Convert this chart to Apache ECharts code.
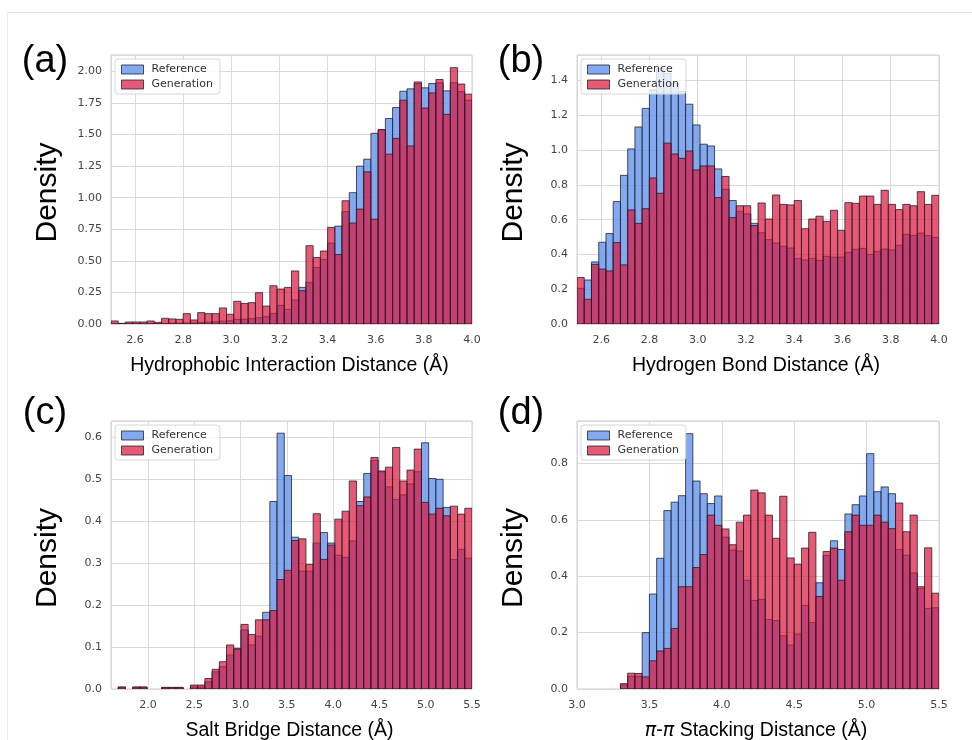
<!DOCTYPE html>
<html><head><meta charset="utf-8">
<script src="https://cdn.jsdelivr.net/npm/echarts@6/dist/echarts.min.js"></script>
<style>html,body{margin:0;padding:0;background:#fff}#c{width:972px;height:740px}</style>
</head><body><div id="c"></div>
<script>
// ---------------- data ----------------
const seriesNames = ['Reference', 'Generation'];
const panelLabels = ['(a)', '(b)', '(c)', '(d)'];
const xTitles = ['Hydrophobic Interaction Distance (Å)', 'Hydrogen Bond Distance (Å)', 'Salt Bridge Distance (Å)', '{i|π}-{i|π} Stacking Distance (Å)'];
const yTitle = 'Density';

// histogram bin layout (start of first bin, bin width), 50 bins each
const aBinStart = 2.5, aBinWidth = 0.03;
const bBinStart = 2.5, bBinWidth = 0.03;
const cBinStart = 1.6, cBinWidth = 0.078;
const dBinStart = 3.0, dBinWidth = 0.05;

// axis ranges (x tick step null = automatic nice step)
const aXRange = [2.5, 4.0], aXStep = null, aYRange = [0, 2.13], aYStep = 0.25;
const bXRange = [2.5, 4.0], bXStep = null, bYRange = [0, 1.547], bYStep = 0.2;
const cXRange = [1.6, 5.5], cXStep = null, cYRange = [0, 0.639], cYStep = 0.1;
const dXRange = [3.0, 5.5], dXStep = 0.5, dYRange = [0, 0.951], dYStep = 0.2;

const aRef = [0.003,0.002,0.003,0.003,0.003,0.004,0.004,0.005,0.006,0.006,
  0.008,0.010,0.012,0.015,0.018,0.022,0.026,0.037,0.038,0.042,
  0.050,0.058,0.084,0.148,0.116,0.19,0.29,0.33,0.448,0.51,
  0.64,0.775,0.89,1.04,1.25,1.305,1.51,1.535,1.627,1.714,
  1.843,1.862,1.904,1.87,1.904,1.91,1.846,1.91,1.84,1.772];
const aGen = [0.024,0.005,0.016,0.016,0.016,0.024,0.013,0.045,0.04,0.037,
  0.082,0.032,0.09,0.082,0.082,0.127,0.077,0.18,0.163,0.169,
  0.248,0.142,0.303,0.277,0.29,0.42,0.264,0.62,0.527,0.578,
  0.765,0.55,0.976,0.80,0.91,1.205,0.83,1.54,1.345,1.47,
  1.772,1.41,1.917,1.71,1.83,1.936,1.66,2.03,1.9,1.82];

const bRef = [0.205,0.253,0.357,0.47,0.52,0.704,0.855,1.007,1.133,1.24,
  1.346,1.47,1.44,1.385,1.337,1.264,1.145,1.034,1.024,0.892,
  0.775,0.71,0.648,0.633,0.579,0.525,0.485,0.466,0.447,0.437,
  0.376,0.368,0.378,0.366,0.389,0.384,0.385,0.412,0.43,0.435,
  0.40,0.418,0.431,0.426,0.453,0.516,0.51,0.523,0.508,0.498];
const bGen = [0.267,0.142,0.343,0.316,0.305,0.468,0.34,0.656,0.579,0.663,
  0.84,0.752,1.04,0.978,0.953,0.995,0.886,0.909,0.909,0.727,
  0.848,0.612,0.68,0.68,0.566,0.696,0.604,0.742,0.688,0.685,
  0.71,0.548,0.604,0.62,0.59,0.654,0.539,0.698,0.694,0.736,
  0.736,0.688,0.769,0.688,0.658,0.688,0.68,0.761,0.688,0.74];

const cRef = [0,0.004,0,0.004,0.004,0,0,0.003,0.003,0.003,
  0,0.005,0.005,0.017,0.041,0.053,0.081,0.097,0.141,0.105,
  0.126,0.183,0.447,0.61,0.509,0.362,0.281,0.281,0.348,0.373,
  0.348,0.319,0.314,0.353,0.447,0.514,0.545,0.518,0.482,0.452,
  0.463,0.489,0.518,0.587,0.502,0.5,0.433,0.309,0.333,0.312];
const cGen = [0,0.005,0,0.005,0.005,0,0,0.004,0.004,0.004,
  0,0.0095,0.0095,0.025,0.047,0.065,0.105,0.095,0.154,0.13,
  0.165,0.165,0.187,0.261,0.283,0.354,0.358,0.297,0.418,0.309,
  0.343,0.405,0.424,0.496,0.437,0.458,0.552,0.52,0.529,0.576,
  0.496,0.522,0.572,0.445,0.417,0.431,0.413,0.436,0.417,0.431];

const dRef = [0,0,0,0,0,0,0.015,0.045,0.045,0.2,
  0.337,0.464,0.633,0.663,0.686,0.906,0.738,0.693,0.658,0.685,
  0.539,0.493,0.49,0.386,0.314,0.318,0.247,0.243,0.189,0.156,
  0.195,0.297,0.236,0.377,0.474,0.526,0.495,0.621,0.654,0.685,
  0.835,0.7,0.717,0.693,0.495,0.475,0.412,0.357,0.286,0.288];
const dGen = [0,0,0,0,0,0,0.019,0.056,0.055,0.043,
  0.1,0.135,0.144,0.215,0.363,0.363,0.431,0.477,0.617,0.581,
  0.568,0.512,0.592,0.617,0.706,0.696,0.617,0.535,0.684,0.465,
  0.443,0.5,0.556,0.328,0.488,0.5,0.386,0.558,0.617,0.581,
  0.581,0.617,0.592,0.569,0.66,0.558,0.617,0.363,0.501,0.34];

// ---------------- chart ----------------
const REF_FILL = 'rgba(100,149,237,0.8)';
const GEN_FILL = 'rgba(220,20,60,0.7)';
const EDGE = 'rgba(25,25,35,0.75)';
const GRID_C = '#d9d9d9';
const TICK_FONT = 'DejaVu Sans';
const TITLE_FONT = 'Liberation Sans';

const panels = [
  {start:aBinStart, w:aBinWidth, ref:aRef, gen:aGen, xr:aXRange, xs:aXStep, yr:aYRange, ys:aYStep, dec:2, grid:{left:111, top:55, width:361, height:269}},
  {start:bBinStart, w:bBinWidth, ref:bRef, gen:bGen, xr:bXRange, xs:bXStep, yr:bYRange, ys:bYStep, dec:1, grid:{left:577, top:55, width:362, height:269}},
  {start:cBinStart, w:cBinWidth, ref:cRef, gen:cGen, xr:cXRange, xs:cXStep, yr:cYRange, ys:cYStep, dec:1, grid:{left:111, top:421, width:361, height:268}},
  {start:dBinStart, w:dBinWidth, ref:dRef, gen:dGen, xr:dXRange, xs:dXStep, yr:dYRange, ys:dYStep, dec:1, grid:{left:577, top:421, width:362, height:268}}
];

function histData(lo, w, vals) {
  return vals.map((v, i) => [lo + i * w, lo + (i + 1) * w, v]);
}
function makeRender(fill) {
  return function (params, api) {
    const v = api.value(2);
    if (!(v > 0)) return null;
    const p0 = api.coord([api.value(0), v]);
    const p1 = api.coord([api.value(1), 0]);
    return {
      type: 'rect',
      shape: {x: p0[0], y: p0[1], width: p1[0] - p0[0], height: p1[1] - p0[1]},
      style: {fill: fill, stroke: EDGE, lineWidth: 1}
    };
  };
}

const grids = [], xAxes = [], yAxes = [], series = [], legends = [];
panels.forEach((p, k) => {
  grids.push(Object.assign({show: true, borderColor: '#cfcfcf', borderWidth: 1, backgroundColor: '#fff'}, p.grid));
  const xa = {
    type: 'value', gridIndex: k, min: p.xr[0], max: p.xr[1], splitNumber: 8,
    axisLine: {show: false}, axisTick: {show: false},
    splitLine: {show: true, lineStyle: {color: GRID_C, width: 1}},
    axisLabel: {showMinLabel: p.xs !== null, fontFamily: TICK_FONT, fontSize: 11, color: '#444', margin: 11,
      formatter: v => v.toFixed(1)}
  };
  if (p.xs !== null) xa.interval = p.xs;
  xAxes.push(xa);
  yAxes.push({
    type: 'value', gridIndex: k, min: p.yr[0], max: p.yr[1], interval: p.ys,
    axisLine: {show: false}, axisTick: {show: false},
    splitLine: {show: true, lineStyle: {color: GRID_C, width: 1}},
    axisLabel: {showMaxLabel: false, fontFamily: TICK_FONT, fontSize: 11, color: '#444', margin: 9,
      formatter: v => v.toFixed(p.dec)}
  });
  series.push({
    type: 'custom', name: seriesNames[0], xAxisIndex: k, yAxisIndex: k,
    renderItem: makeRender(REF_FILL), encode: {x: [0, 1], y: 2},
    data: histData(p.start, p.w, p.ref), itemStyle: {color: REF_FILL}, clip: true, z: 2
  });
  series.push({
    type: 'custom', name: seriesNames[1], xAxisIndex: k, yAxisIndex: k,
    renderItem: makeRender(GEN_FILL), encode: {x: [0, 1], y: 2},
    data: histData(p.start, p.w, p.gen), itemStyle: {color: GEN_FILL}, clip: true, z: 3
  });
  legends.push({
    orient: 'vertical', left: p.grid.left + 4, top: p.grid.top + 4,
    backgroundColor: 'rgba(255,255,255,0.8)', borderColor: '#d6d6d6', borderWidth: 1, borderRadius: 3,
    padding: [5, 7, 4, 6], itemGap: 4, itemWidth: 22, itemHeight: 9, selectedMode: false, z: 10,
    textStyle: {fontFamily: TICK_FONT, fontSize: 11, color: '#333', padding: [0, 0, 0, 3]},
    data: [
      {name: seriesNames[0], icon: 'rect', itemStyle: {color: REF_FILL, borderColor: EDGE, borderWidth: 1}},
      {name: seriesNames[1], icon: 'rect', itemStyle: {color: GEN_FILL, borderColor: EDGE, borderWidth: 1}}
    ]
  });
});

const graphics = [
  {type: 'line', shape: {x1: 7, y1: 12.5, x2: 972, y2: 12.5}, style: {stroke: '#dcdcdc', lineWidth: 1}},
  {type: 'line', shape: {x1: 7.5, y1: 12, x2: 7.5, y2: 740}, style: {stroke: '#ececec', lineWidth: 1}}
];
const labelPos = [[45, 62], [521, 62], [45, 414], [521, 414]];
labelPos.forEach((pos, k) => {
  graphics.push({type: 'text', x: pos[0], y: pos[1], z: 20,
    style: {text: panelLabels[k], fontFamily: TITLE_FONT, fontSize: 38, fill: '#000', align: 'center', verticalAlign: 'middle'}});
});
panels.forEach((p, k) => {
  const g = p.grid;
  graphics.push({type: 'text', x: g.left - 63, y: g.top + g.height / 2 + 3, rotation: Math.PI / 2, z: 20,
    style: {text: yTitle, fontFamily: TITLE_FONT, fontSize: 30, fill: '#000', align: 'center', verticalAlign: 'middle'}});
  graphics.push({type: 'text', x: g.left + g.width / 2 - 2, y: g.top + g.height + 42, z: 20,
    style: {text: xTitles[k], fontFamily: TITLE_FONT, fontSize: 19.5, fill: '#000', align: 'center', verticalAlign: 'middle',
      rich: {i: {fontFamily: 'DejaVu Sans', fontStyle: 'italic', fontSize: 19, fill: '#000'}}}});
});

const chart = echarts.init(document.getElementById('c'), null, {renderer: 'canvas'});
chart.setOption({
  animation: false,
  backgroundColor: '#fff',
  grid: grids, xAxis: xAxes, yAxis: yAxes, series: series, legend: legends,
  graphic: graphics
});
</script></body></html>
